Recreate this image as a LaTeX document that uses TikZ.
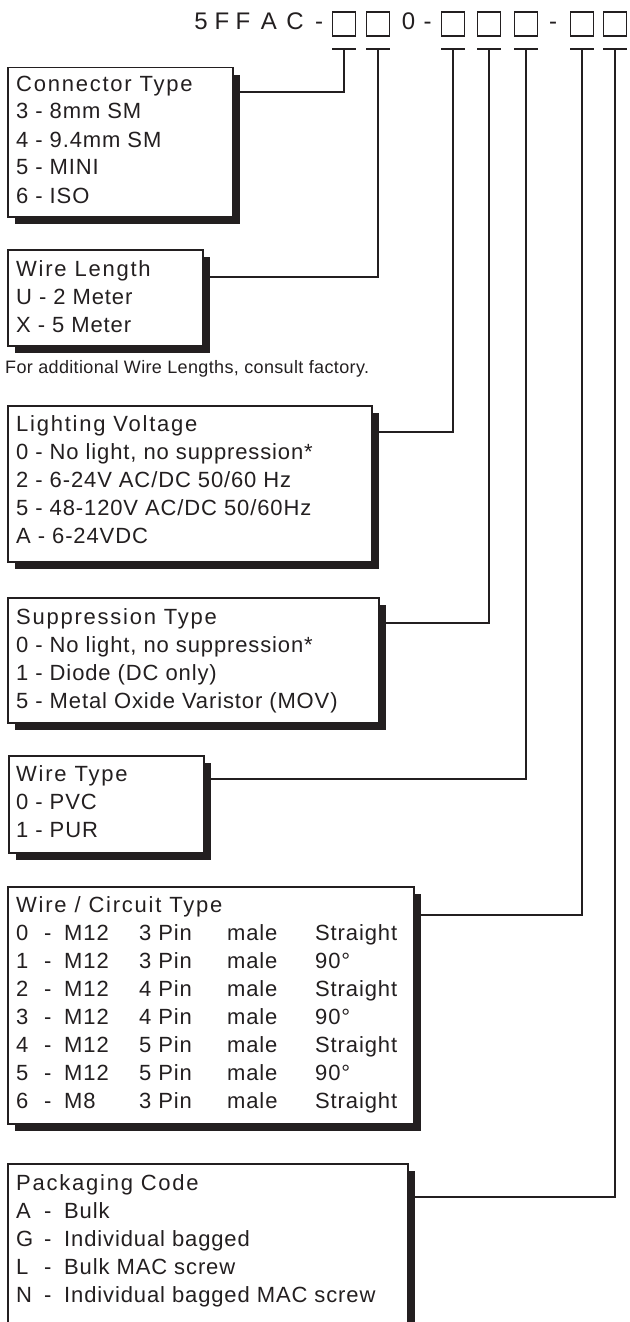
\documentclass[tikz,border=0pt]{standalone}
\usepackage{fontspec}
\setmainfont{Liberation Sans}
\newfontfamily\ttlfont[LetterSpace=8]{Liberation Sans}
\newfontfamily\rowfont[LetterSpace=4]{Liberation Sans}
\newfontfamily\notefont[LetterSpace=2]{Liberation Sans}
\usetikzlibrary{shadows}
\definecolor{ink}{HTML}{231F20}
\begin{document}
\begin{tikzpicture}[x=1pt,y=-1pt,
  box/.style={draw=ink, line width=1.5pt, fill=white, inner sep=0pt, anchor=north west,
    drop shadow={shadow xshift=7pt, shadow yshift=-7pt, opacity=1, fill=ink}},
  conn/.style={draw=ink, line width=1.8pt},
  txt/.style={anchor=base west, inner sep=0pt, text=ink, font=\fontsize{22}{28}\selectfont},
  hdr/.style={anchor=base, inner sep=0pt, text=ink, font=\fontsize{24}{28}\selectfont},
  digit/.style={draw=ink, line width=1.5pt, minimum width=23pt, minimum height=24pt, inner sep=0pt},
]
\useasboundingbox (0,0) rectangle (629,1322);
\clip (0,0) rectangle (629,1322);
\fill[white] (0,0) rectangle (629,1322);

% header code
\foreach \c/\x [count=\i] in {5/201, F/222, F/243, A/269, C/295, -/319}
  \node[hdr] (h\i) at (\x,30) {\c};
\node[hdr] (hz) at (408.5,30) {0};
\node[hdr] (hd1) at (427.5,30) {-};
\node[hdr] (hd2) at (553,30) {-};

\foreach \x [count=\i] in {344,378,453,489,526,582,615} {
  \node[digit] (sq\i) at (\x,24) {};
  \coordinate (b\i) at (\x,49);
  \draw[conn] ([xshift=-12pt]b\i) -- ([xshift=12pt]b\i);
}

% boxes
\node[box, minimum width=225pt, minimum height=149pt] (ct) at (7,67) {};
\node[box, minimum width=195pt, minimum height=96pt] (wl) at (7,249) {};
\node[box, minimum width=364pt, minimum height=156pt] (lv) at (7,405) {};
\node[box, minimum width=371pt, minimum height=125pt] (st) at (7,597) {};
\node[box, minimum width=195pt, minimum height=97pt] (wt) at (8,755) {};
\node[box, minimum width=406pt, minimum height=237pt] (wc) at (7,886) {};
\node[box, minimum width=400pt, minimum height=220pt] (pc) at (7,1163) {};

% connectors
\draw[conn] (b1) |- ([yshift=-25pt]ct.north east);
\draw[conn] (b2) |- ([yshift=-28pt]wl.north east);
\draw[conn] (b3) |- ([yshift=-27pt]lv.north east);
\draw[conn] (b4) |- ([yshift=-26pt]st.north east);
\draw[conn] (b5) |- ([yshift=-24pt]wt.north east);
\draw[conn] (b6) |- ([yshift=-29pt]wc.north east);
\draw[conn] (b7) |- ([yshift=-34pt]pc.north east);

% texts
\node[txt] (ctx) at (16,91) {\begin{tabular}[t]{@{}l@{}}
\ttlfont Connector Type\\
\rowfont 3 - 8mm SM\\
\rowfont 4 - 9.4mm SM\\
\rowfont 5 - MINI\\
\rowfont 6 - ISO
\end{tabular}};

\node[txt] (wlx) at (16,276) {\begin{tabular}[t]{@{}l@{}}
\ttlfont Wire Length\\
\rowfont U - 2 Meter\\
\rowfont X - 5 Meter
\end{tabular}};

\node[anchor=base west, inner sep=0pt, text=ink, font=\notefont\fontsize{18}{20}\selectfont] (note) at (5,373) {For additional Wire Lengths, consult factory.};

\node[txt] (lvx) at (16,431) {\begin{tabular}[t]{@{}l@{}}
\ttlfont Lighting Voltage\\
\rowfont 0 - No light, no suppression*\\
\rowfont 2 - 6-24V AC/DC 50/60 Hz\\
\rowfont 5 - 48-120V AC/DC 50/60Hz\\
\rowfont A - 6-24VDC
\end{tabular}};

\node[txt] (stx) at (16,624) {\begin{tabular}[t]{@{}l@{}}
\ttlfont Suppression Type\\
\rowfont 0 - No light, no suppression*\\
\rowfont 1 - Diode (DC only)\\
\rowfont 5 - Metal Oxide Varistor (MOV)
\end{tabular}};

\node[txt] (wtx) at (16,781) {\begin{tabular}[t]{@{}l@{}}
\ttlfont Wire Type\\
\rowfont 0 - PVC\\
\rowfont 1 - PUR
\end{tabular}};

\node[txt] (wcx) at (16,912) {\begin{tabular}[t]{@{}p{28pt}@{}p{20pt}@{}p{75pt}@{}p{88pt}@{}p{88pt}@{}l@{}}
\multicolumn{6}{@{}l@{}}{\ttlfont Wire / Circuit Type}\\
\rowfont 0 & \rowfont - & \rowfont M12 & \rowfont 3 Pin & \rowfont male & \rowfont Straight\\
\rowfont 1 & \rowfont - & \rowfont M12 & \rowfont 3 Pin & \rowfont male & \rowfont 90°\\
\rowfont 2 & \rowfont - & \rowfont M12 & \rowfont 4 Pin & \rowfont male & \rowfont Straight\\
\rowfont 3 & \rowfont - & \rowfont M12 & \rowfont 4 Pin & \rowfont male & \rowfont 90°\\
\rowfont 4 & \rowfont - & \rowfont M12 & \rowfont 5 Pin & \rowfont male & \rowfont Straight\\
\rowfont 5 & \rowfont - & \rowfont M12 & \rowfont 5 Pin & \rowfont male & \rowfont 90°\\
\rowfont 6 & \rowfont - & \rowfont M8 & \rowfont 3 Pin & \rowfont male & \rowfont Straight
\end{tabular}};

\node[txt] (pcx) at (16,1190) {\begin{tabular}[t]{@{}p{28pt}@{}p{20pt}@{}l@{}}
\multicolumn{3}{@{}l@{}}{\ttlfont Packaging Code}\\
\rowfont A & \rowfont - & \rowfont Bulk\\
\rowfont G & \rowfont - & \rowfont Individual bagged\\
\rowfont L & \rowfont - & \rowfont Bulk MAC screw\\
\rowfont N & \rowfont - & \rowfont Individual bagged MAC screw
\end{tabular}};
\end{tikzpicture}
\end{document}
